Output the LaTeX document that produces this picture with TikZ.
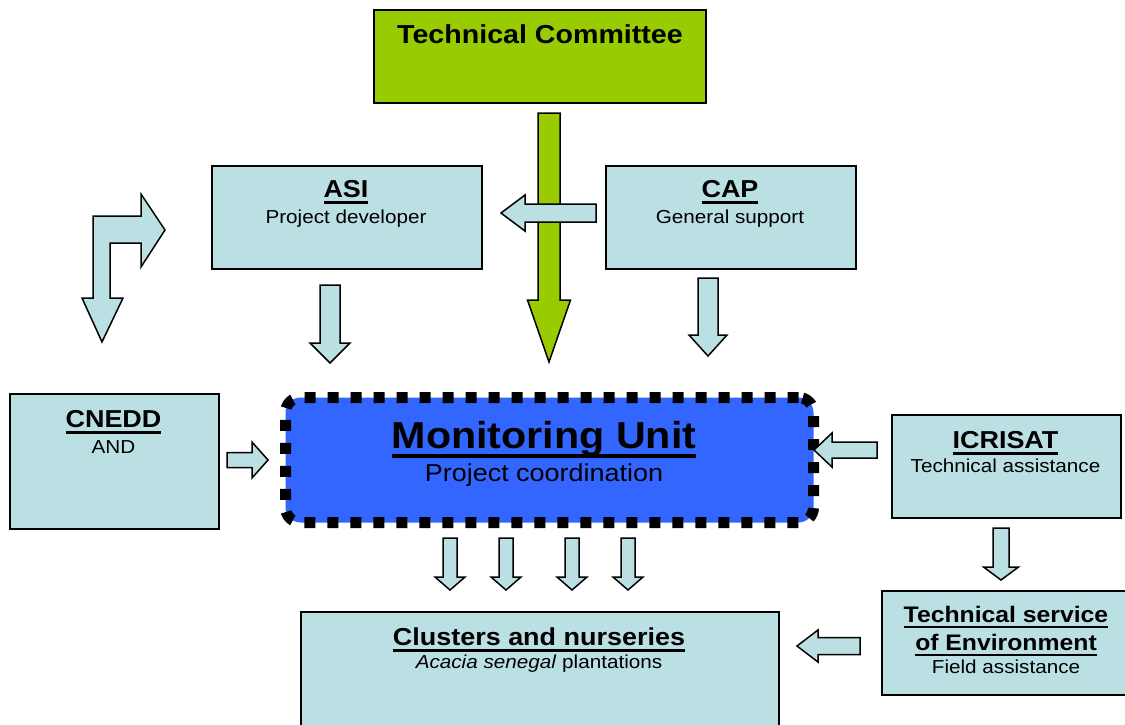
\documentclass[tikz,border=0pt]{standalone}
\usepackage{fontspec}
\setmainfont{Liberation Sans}
\usepackage{graphicx}
\definecolor{lb}{RGB}{187,224,227}
\definecolor{tcgreen}{RGB}{153,204,0}
\definecolor{mublue}{RGB}{51,102,255}
\newcommand{\myul}[1]{\setbox0\hbox{#1}\rlap{\copy0}\rule[-0.27em]{\wd0}{0.11em}}
\newcommand{\hs}[1]{\scalebox{1.1}[1]{#1}}
% block arrows: [style]{cx or cy}{start}{tip}{shaft half}{head half}{head length}
\newcommand{\blkdown}[7][]{\draw[barrow,#1] ({#2-#5},#3) -- ({#2+#5},#3) -- ({#2+#5},{#4-#7}) -- ({#2+#6},{#4-#7}) -- (#2,#4) -- ({#2-#6},{#4-#7}) -- ({#2-#5},{#4-#7}) -- cycle;}
\newcommand{\blkleft}[7][]{\draw[barrow,#1] (#3,{#2-#5}) -- (#3,{#2+#5}) -- ({#4+#7},{#2+#5}) -- ({#4+#7},{#2+#6}) -- (#4,#2) -- ({#4+#7},{#2-#6}) -- ({#4+#7},{#2-#5}) -- cycle;}
\newcommand{\blkright}[7][]{\draw[barrow,#1] (#3,{#2-#5}) -- (#3,{#2+#5}) -- ({#4-#7},{#2+#5}) -- ({#4-#7},{#2+#6}) -- (#4,#2) -- ({#4-#7},{#2-#6}) -- ({#4-#7},{#2-#5}) -- cycle;}
\begin{document}
\begin{tikzpicture}[x=1pt,y=-1pt,
 box/.style={draw=black, line width=2pt, fill=lb, anchor=north west, inner sep=0pt},
 barrow/.style={draw=black, line width=1.5pt, fill=lb, line join=miter},
 hd/.style={anchor=base, inner sep=0pt, font=\fontsize{24.5}{28}\selectfont\bfseries},
 hdbig/.style={anchor=base, inner sep=0pt, font=\fontsize{26}{30}\selectfont\bfseries},
 hdts/.style={anchor=base, inner sep=0pt, font=\fontsize{22.5}{26}\selectfont\bfseries},
 sb/.style={anchor=base, inner sep=0pt, font=\fontsize{18.8}{22}\selectfont},
 muhd/.style={anchor=base, inner sep=0pt, font=\fontsize{37.5}{42}\selectfont\bfseries},
 musb/.style={anchor=base, inner sep=0pt, font=\fontsize{24.5}{28}\selectfont}]
\useasboundingbox (0,0) rectangle (1125,724);
\fill[white] (0,0) rectangle (1125,724);

% boxes
\node[box, fill=tcgreen, minimum width=332pt, minimum height=93pt] (tc) at (373,9) {};
\node[box, minimum width=270pt, minimum height=103pt] (asi) at (211,165) {};
\node[box, minimum width=250pt, minimum height=103pt] (cap) at (605,165) {};
\node[box, minimum width=209pt, minimum height=135pt] (cnedd) at (9,393) {};
\node[box, minimum width=229pt, minimum height=103pt] (icr) at (891,414) {};
\node[box, minimum width=478pt, minimum height=140pt] (cl) at (300,611) {};
\node[box, minimum width=250pt, minimum height=104pt] (ts) at (881,590) {};
\node[fill=mublue, draw=black, line width=11pt, dash pattern=on 11pt off 12pt,
      rounded corners=15pt, minimum width=528pt, minimum height=125pt,
      anchor=north west, inner sep=0pt] (mu) at (280,392) {};

% arrows
\blkdown[fill=tcgreen]{549}{113}{362}{11}{21.5}{62}
\blkleft{213}{596}{501}{9}{18}{24}
\blkdown{330}{285}{363}{10}{20}{20}
\blkdown{708}{278}{356}{10}{19}{21}
\blkdown{450}{538}{590}{7}{15}{13}
\blkdown{506}{538}{590}{7}{15}{13}
\blkdown{572}{538}{590}{7}{15}{13}
\blkdown{628}{538}{590}{7}{15}{13}
\blkdown{1001}{528}{580}{8}{17.5}{13}
\blkleft{450}{877}{814}{8}{17}{18}
\blkright{460}{227}{268}{7.5}{18}{16}
\blkleft{646}{860}{797}{8.5}{16}{21}
\draw[barrow] (93,298) -- (93,216) -- (141,216) -- (141,194) -- (165,230) -- (141,267) -- (141,243) -- (110,243) -- (110,298) -- (123,298) -- (102,342) -- (82,298) -- cycle;

% texts
\node[hdbig] (tct) at (540,43) {\hs{Technical Committee}};
\node[hd] (asit) at (346,197) {\hs{\myul{ASI}}};
\node[sb] (asis) at (346,223) {\hs{Project developer}};
\node[hd] (capt) at (730,197) {\hs{\myul{CAP}}};
\node[sb] (caps) at (730,223) {\hs{General support}};
\node[hd] (cneddt) at (113.5,427) {\hs{\myul{CNEDD}}};
\node[sb] (cnedds) at (113.5,453) {\hs{AND}};
\node[muhd] (mut) at (544,448) {\hs{\myul{Monitoring Unit}}};
\node[musb] (mus) at (544,481) {\hs{Project coordination}};
\node[hd] (icrt) at (1005.5,448) {\hs{\myul{ICRISAT}}};
\node[sb] (icrs) at (1005.5,472) {\hs{Technical assistance}};
\node[hd] (clt) at (539,645) {\hs{\myul{Clusters and nurseries}}};
\node[sb] (cls) at (539,668) {\hs{\textit{Acacia senegal} plantations}};
\node[hdts] (tst1) at (1006,622) {\hs{\myul{Technical service}}};
\node[hdts] (tst2) at (1006,650) {\hs{\myul{of Environment}}};
\node[sb] (tss) at (1006,673) {\hs{Field assistance}};
\end{tikzpicture}
\end{document}
